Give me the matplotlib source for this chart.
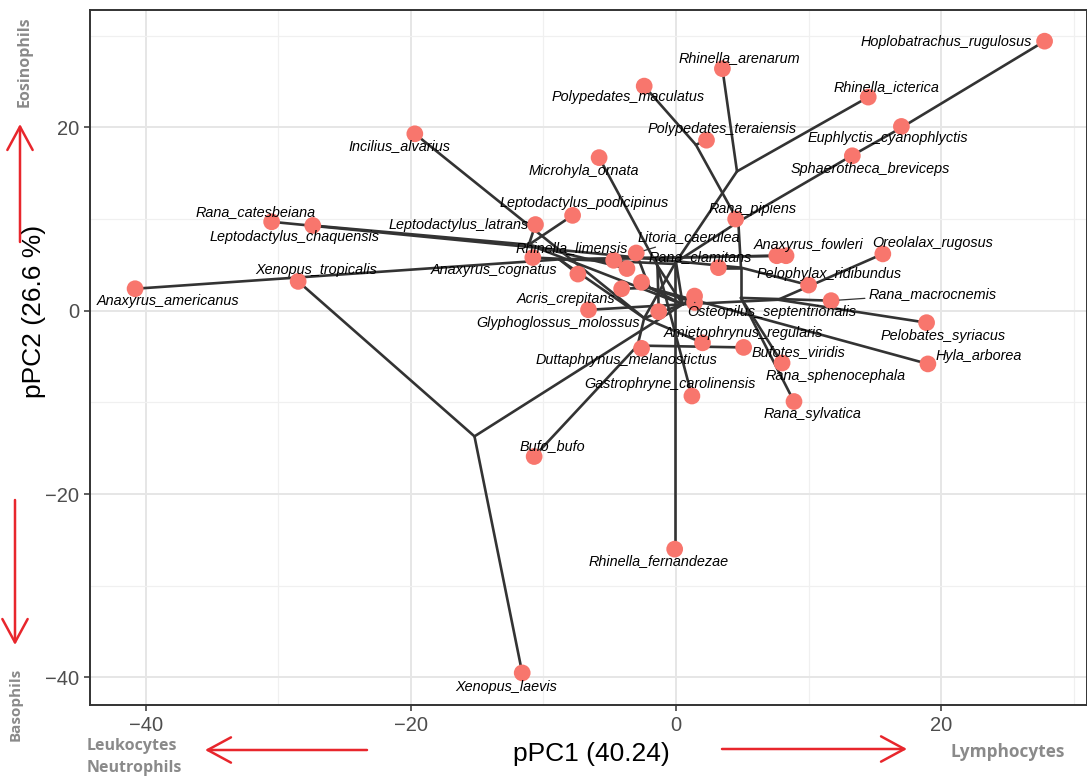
import matplotlib
matplotlib.use("Agg")
import matplotlib.pyplot as plt
from matplotlib.patches import FancyArrowPatch

# ---- tip species: phylogenetic PC scores and the internal node each hangs from
species = [
    "Hoplobatrachus_rugulosus", "Rhinella_arenarum", "Polypedates_maculatus",
    "Rhinella_icterica", "Euphlyctis_cyanophlyctis", "Polypedates_teraiensis",
    "Incilius_alvarius", "Sphaerotheca_breviceps", "Microhyla_ornata",
    "Rana_pipiens", "Leptodactylus_podicipinus", "Leptodactylus_latrans",
    "Rana_catesbeiana", "Leptodactylus_chaquensis", "Anaxyrus_fowleri", "",
    "Oreolalax_rugosus", "Litoria_caerulea", "Rhinella_limensis",
    "Anaxyrus_cognatus", "", "", "", "", "Rana_clamitans", "",
    "Osteopilus_septentrionalis", "Xenopus_tropicalis", "Anaxyrus_americanus",
    "Pelophylax_ridibundus", "Rana_macrocnemis", "Acris_crepitans",
    "Glyphoglossus_molossus", "Pelobates_syriacus", "Amietophrynus_regularis",
    "Hyla_arborea", "Bufotes_viridis", "Duttaphrynus_melanostictus",
    "Rana_sphenocephala", "Gastrophryne_carolinensis", "Rana_sylvatica",
    "Bufo_bufo", "Rhinella_fernandezae", "Xenopus_laevis",
]
pc1 = [
    27.8, 3.5, -2.4,
    14.5, 17.0, 2.3,
    -19.7, 13.3, -5.8,
    4.5, -7.8, -10.6,
    -30.5, -27.4, 7.6, 8.3,
    15.6, -3.0, -10.8,
    -7.4, -4.7, -3.7, -2.6, -4.1, 3.2, 1.4,
    1.4, -28.5, -40.8,
    10.0, 11.7, -6.6,
    -1.3, 18.9, 2.0,
    19.0, 5.1, -2.6,
    8.0, 1.2, 8.9,
    -10.7, -0.1, -11.6,
]
pc2 = [
    29.4, 26.4, 24.5,
    23.3, 20.1, 18.6,
    19.3, 16.9, 16.7,
    10.0, 10.4, 9.4,
    9.7, 9.3, 6.0, 6.0,
    6.2, 6.3, 5.8,
    4.0, 5.5, 4.6, 3.1, 2.4, 4.7, 1.6,
    0.9, 3.2, 2.4,
    2.8, 1.1, 0.1,
    -0.1, -1.3, -3.5,
    -5.8, -4.0, -4.1,
    -5.7, -9.3, -9.9,
    -15.9, -26.0, -39.5,
]
tip_parent = [
    "NE", "NRh1", "NP",
    "NRh1", "NE", "NP",
    "NBu", "NDc", "NMic",
    "NA", "NL", "NL",
    "NR1", "NL", "NAx", "NAx",
    "NPb", "NHy", "NRh",
    "NAx", "NAx", "NL", "NHy", "NHy", "NR1", "hub",
    "NHy", "root", "NAx",
    "NR1", "NR2", "hub",
    "NMic", "NPb", "NBu",
    "NHy", "NDB", "NDB",
    "NR2", "NMic", "NR2",
    "NDB", "NRh", "root",
]

# ---- reconstructed ancestral states (internal nodes)
node_ids = ["root", "hub", "neo", "NA", "NP", "NDc", "NE", "NR1", "NR2",
            "NBu", "NRh", "NRh1", "NAx", "NDB", "NL", "NMic", "NHy", "NPb"]
node_pc1 = [-15.2, 0.5, 0.0, 4.7, 1.5, 13.0, 16.8, 4.9, 4.9,
            -2.4, -0.1, 4.6, -8.8, -2.9, -11.1, -1.4, -2.0, 7.7]
node_pc2 = [-13.7, 0.7, 5.3, 9.7, 18.1, 16.7, 19.8, 4.7, 1.4,
            -0.8, 5.1, 15.2, 5.6, -3.8, 7.2, 4.9, 2.5, 1.2]
node_parent = [None, "root", "hub", "neo", "NA", "NA", "NDc", "NA", "NR1",
               "hub", "NBu", "NRh", "NBu", "NBu", "hub", "hub", "hub", "hub"]

# ---- label placement (offsets in pixels: right, down) and leader segments
label_offset = {
    "Hoplobatrachus_rugulosus": (-98, 1), "Rhinella_arenarum": (17, -11),
    "Polypedates_maculatus": (-16, 11), "Rhinella_icterica": (18, -10),
    "Euphlyctis_cyanophlyctis": (-14, 12), "Polypedates_teraiensis": (16, -11),
    "Incilius_alvarius": (-15, 12), "Sphaerotheca_breviceps": (18, 13),
    "Microhyla_ornata": (-15, 13), "Rana_catesbeiana": (-16, -10),
    "Leptodactylus_chaquensis": (-18, 12), "Leptodactylus_latrans": (-77, 0),
    "Leptodactylus_podicipinus": (12, -12), "Rana_pipiens": (17, -10),
    "Litoria_caerulea": (53, -16), "Rhinella_limensis": (39, -10),
    "Rana_clamitans": (-18, -11), "Anaxyrus_fowleri": (32, -11),
    "Oreolalax_rugosus": (50, -11), "Anaxyrus_cognatus": (-84, -4),
    "Xenopus_tropicalis": (18, -11), "Anaxyrus_americanus": (33, 12),
    "Pelophylax_ridibundus": (21, -11), "Acris_crepitans": (-22, -11),
    "Rana_macrocnemis": (102, -7), "Osteopilus_septentrionalis": (77, 10),
    "Glyphoglossus_molossus": (-101, 11), "Pelobates_syriacus": (17, 13),
    "Amietophrynus_regularis": (41, -10), "Hyla_arborea": (51, -8),
    "Bufotes_viridis": (55, 5), "Duttaphrynus_melanostictus": (-15, 12),
    "Rana_sphenocephala": (54, 13), "Gastrophryne_carolinensis": (-22, -12),
    "Rana_sylvatica": (19, 12), "Bufo_bufo": (18, -10),
    "Rhinella_fernandezae": (-16, 12), "Xenopus_laevis": (-16, 14),
}
with_leader = {"Litoria_caerulea", "Rana_macrocnemis", "Osteopilus_septentrionalis"}

W, H = 1087, 777
DPI = 100
plt.rcParams["font.family"] = ["Liberation Sans", "DejaVu Sans"]

fig = plt.figure(figsize=(W / DPI, H / DPI), dpi=DPI)
ax = fig.add_axes([90 / W, 1 - 705 / H, 997 / W, 695 / H])

ax.set_xlim(-44.2, 31.0)
ax.set_ylim(-43.0, 32.8)
ax.set_facecolor("white")

# grid (theme_bw look)
ax.set_xticks([-40, -20, 0, 20])
ax.set_yticks([-40, -20, 0, 20])
ax.set_xticks([-30, -10, 10, 30], minor=True)
ax.set_yticks([-30, -10, 10, 30], minor=True)
ax.grid(which="major", color="#E6E6E6", linewidth=1.4, zorder=0)
ax.grid(which="minor", color="#F0F0F0", linewidth=0.9, zorder=0)
ax.set_axisbelow(True)
for s in ax.spines.values():
    s.set_color("#333333")
    s.set_linewidth(1.4)
ax.tick_params(which="major", length=4, width=1.1, color="#333333",
               labelsize=14.5, labelcolor="#4D4D4D", pad=4)
ax.tick_params(which="minor", length=0)
ax.set_xticklabels(["\u221240", "\u221220", "0", "20"])
ax.set_yticklabels(["\u221240", "\u221220", "0", "20"])

# branches of the phylomorphospace
coords = {n: (x, y) for n, x, y in zip(node_ids, node_pc1, node_pc2)}
for n, p in zip(node_ids, node_parent):
    if p is None:
        continue
    (x0, y0), (x1, y1) = coords[n], coords[p]
    ax.plot([x0, x1], [y0, y1], color="#333333", lw=1.9, zorder=2,
            solid_capstyle="round")
for x, y, p in zip(pc1, pc2, tip_parent):
    x1, y1 = coords[p]
    ax.plot([x, x1], [y, y1], color="#333333", lw=1.9, zorder=2,
            solid_capstyle="round")

# tips
ax.scatter(pc1, pc2, s=145, color="#F8766D", edgecolors="none", zorder=3)

# species labels
for name, x, y in zip(species, pc1, pc2):
    if not name:
        continue
    dx, dy = label_offset[name]
    kw = {}
    if name in with_leader:
        kw["arrowprops"] = dict(arrowstyle="-", color="#333333", lw=0.9,
                                shrinkA=1, shrinkB=6)
    ax.annotate(name, (x, y), xytext=(dx * 0.72, -dy * 0.72),
                textcoords="offset points", ha="center", va="center",
                fontsize=10.4, style="italic", color="black", zorder=4, **kw)

ax.set_xlabel("pPC1 (40.24)", fontsize=19)
ax.set_ylabel("pPC2 (26.6 %)", fontsize=19)
ax.xaxis.set_label_coords((591 - 90) / 997, -(742 - 705) / 695)
ax.yaxis.set_label_coords(-(90 - 46) / 997, (705 - 311) / 695)


# cell-type direction cues around the axes
def fx(px):
    return px / W


def fy(py):
    return 1 - py / H


red = "#E8262C"
grey = "#8A8A8A"
for a, b in [((20, 242), (20, 124)), ((15, 500), (15, 645)),
             ((367, 750), (205, 750)), ((722, 749), (907, 749))]:
    fig.add_artist(FancyArrowPatch((fx(a[0]), fy(a[1])), (fx(b[0]), fy(b[1])),
                                   transform=fig.transFigure, color=red, lw=1.8,
                                   arrowstyle="->,head_length=1.2,head_width=0.65",
                                   mutation_scale=14, shrinkA=0, shrinkB=0))

side = dict(color=grey, fontweight="bold", family=["Open Sans", "DejaVu Sans"])
fig.text(fx(25), fy(62), "Eosinophils", rotation=90, ha="center", va="center",
         fontsize=11.5, **side)
fig.text(fx(16), fy(704), "Basophils", rotation=90, ha="center", va="center",
         fontsize=11, **side)
fig.text(fx(87), fy(746), "Leukocytes", ha="left", va="center", fontsize=11.5, **side)
fig.text(fx(87), fy(768), "Neutrophils", ha="left", va="center", fontsize=11.5, **side)
fig.text(fx(950), fy(752), "Lymphocytes", ha="left", va="center", fontsize=12.4, **side)

fig.savefig("out.png", dpi=DPI)
